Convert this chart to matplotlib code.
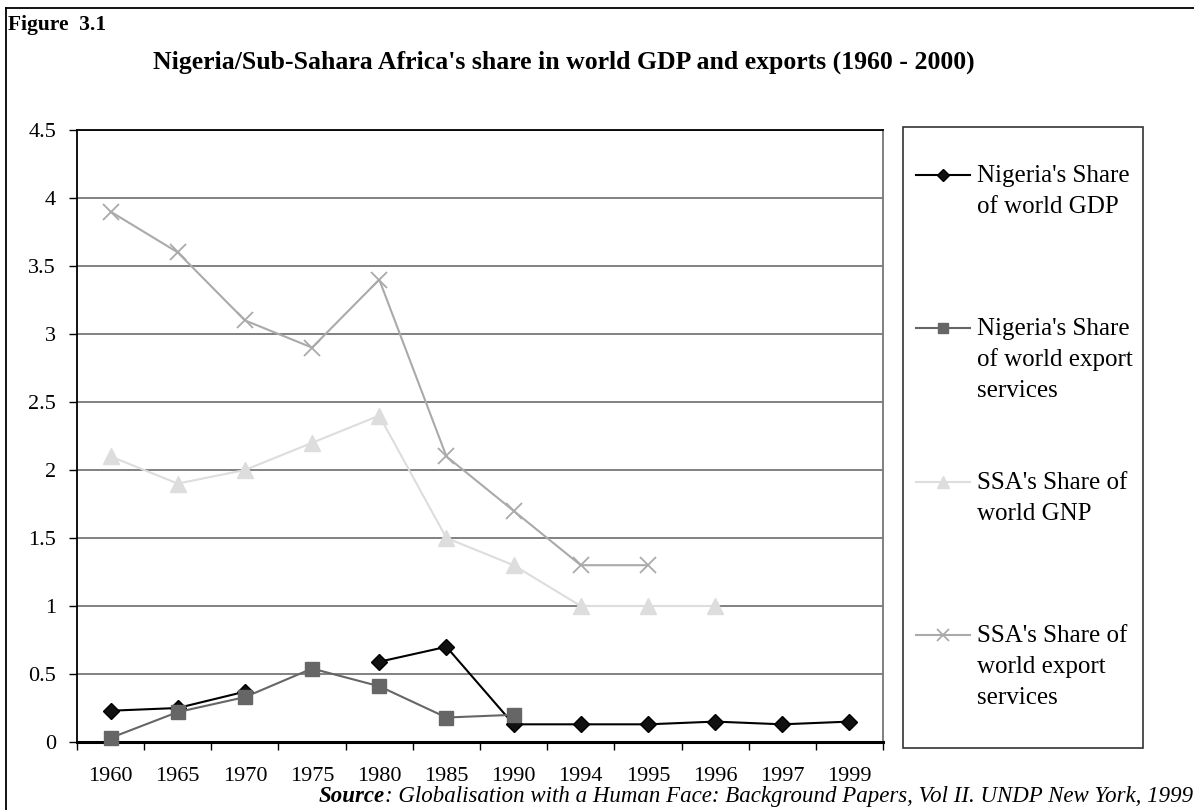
import numpy as np
import matplotlib
matplotlib.use("Agg")
import matplotlib.pyplot as plt
from matplotlib.lines import Line2D
from matplotlib.patches import Rectangle

plt.rcParams['font.family'] = ['Liberation Serif', 'DejaVu Serif']

years = ['1960', '1965', '1970', '1975', '1980', '1985', '1990',
         '1994', '1995', '1996', '1997', '1999']
nan = np.nan
nigeria_gdp = [0.23, 0.25, 0.37, nan, 0.59, 0.70, 0.13, 0.13, 0.13, 0.15, 0.13, 0.15]
nigeria_exports = [0.03, 0.22, 0.33, 0.54, 0.41, 0.18, 0.20, nan, nan, nan, nan, nan]
ssa_gnp = [2.1, 1.9, 2.0, 2.2, 2.4, 1.5, 1.3, 1.0, 1.0, 1.0, nan, nan]
ssa_exports = [3.9, 3.6, 3.1, 2.9, 3.4, 2.1, 1.7, 1.3, 1.3, nan, nan, nan]

series_labels = ["Nigeria's Share\nof world GDP",
                 "Nigeria's Share\nof world export\nservices",
                 "SSA's Share of\nworld GNP",
                 "SSA's Share of\nworld export\nservices"]

styles = [
    dict(color='#000000', marker='D', markersize=8, markerfacecolor='#111111',
         markeredgecolor='#000000', lw=1.5),
    dict(color='#666666', marker='s', markersize=10, markerfacecolor='#666666',
         markeredgecolor='#666666', lw=1.5),
    dict(color='#dddddd', marker='^', markersize=11, markerfacecolor='#dddddd',
         markeredgecolor='#dddddd', lw=1.5),
    dict(color='#aaaaaa', marker='x', markersize=12, markeredgewidth=1.3,
         markeredgecolor='#aaaaaa', lw=1.5),
]
series = [nigeria_gdp, nigeria_exports, ssa_gnp, ssa_exports]

W, H = 1194, 810
fig = plt.figure(figsize=(W / 100, H / 100), dpi=100)

def fx(px):
    return px / W

def fy(py):
    return 1 - py / H

ax = fig.add_axes([fx(77), fy(742), fx(883) - fx(77), fy(130) - fy(742)])
x = np.arange(len(years))
for vals, st in zip(series, styles):
    ax.plot(x, vals, zorder=3, clip_on=False, **st)

ax.set_xlim(-0.5, len(years) - 0.5)
ax.set_ylim(0, 4.5)
yt = np.arange(0, 4.51, 0.5)
ax.set_yticks(yt)
ax.set_yticklabels(['%g' % v for v in yt], fontsize=16)
ax.yaxis.grid(True, color='#777777', lw=1.3)
ax.set_axisbelow(True)

# category ticks sit on the boundaries, labels in the middle
ax.set_xticks(np.arange(-0.5, len(years), 1.0))
ax.set_xticklabels([])
ax.set_xticks(x, minor=True)
ax.set_xticklabels(years, minor=True, fontsize=16)
ax.tick_params(axis='x', which='major', direction='out', length=6, width=1, color='#000000')
ax.tick_params(axis='x', which='minor', length=0, pad=18)
ax.tick_params(axis='y', direction='out', length=6, width=1, pad=9)

ax.spines['bottom'].set_linewidth(2.2)
ax.spines['left'].set_linewidth(1.3)
ax.spines['top'].set_linewidth(1.3)
ax.spines['right'].set_color('#777777')
ax.spines['right'].set_linewidth(1.3)

# outer frame
fig.add_artist(Line2D([fx(6), fx(6)], [fy(8), 0], color='black', lw=1.3))
fig.add_artist(Line2D([fx(6), 1], [fy(8), fy(8)], color='black', lw=1.3))

fig.text(fx(8), fy(25), 'Figure  3.1', fontsize=15.5, fontweight='bold',
         ha='left', va='center')
fig.text(fx(564), fy(62),
         "Nigeria/Sub-Sahara Africa's share in world GDP and exports (1960 - 2000)",
         fontsize=18.5, fontweight='bold', ha='center', va='center')

# legend box, one entry per series, first text line level with the handle
fig.add_artist(Rectangle((fx(903), fy(748)), fx(1143) - fx(903), fy(127) - fy(748),
                         fill=False, edgecolor='#333333', lw=1.2))
entry_y = [175, 328, 482, 635]
for ey, st, lab in zip(entry_y, styles, series_labels):
    kw = {k: v for k, v in st.items() if k != 'markersize'}
    fig.add_artist(Line2D([fx(916), fx(943), fx(970)], [fy(ey)] * 3,
                          markevery=[1], markersize=st['markersize'] * 0.75, **kw))
    for i, line in enumerate(lab.split('\n')):
        fig.text(fx(977), fy(ey + 7 + 31 * i), line, fontsize=18,
                 ha='left', va='baseline')

src = fig.text(fx(319), fy(802), 'Source', fontsize=16.5, style='italic',
               fontweight='bold', ha='left', va='baseline')
ax.annotate(': Globalisation with a Human Face: Background Papers, Vol II. UNDP New York, 1999',
            xy=(1, 0), xycoords=src, ha='left', va='bottom',
            fontsize=16.5, style='italic', annotation_clip=False)

fig.savefig('out.png', dpi=100)
